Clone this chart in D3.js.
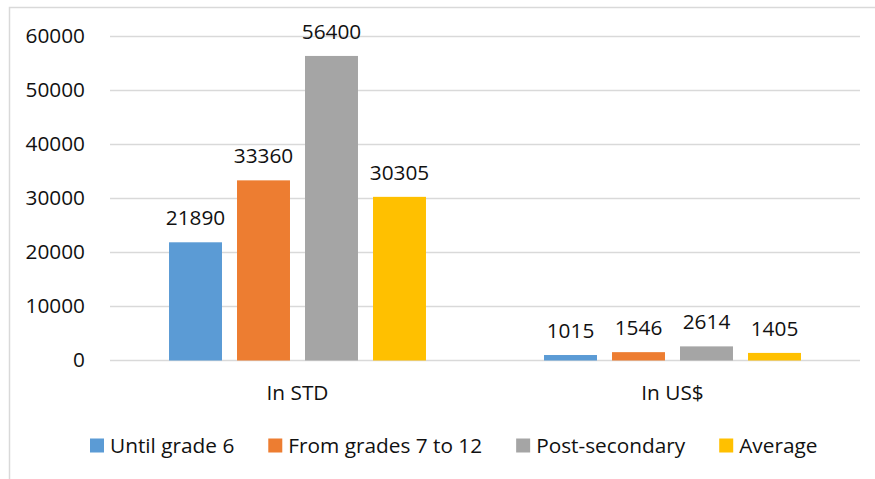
<!DOCTYPE html>
<html>
<head>
<meta charset="utf-8">
<script src="https://cdn.jsdelivr.net/npm/d3@7"></script>
<style>
  html, body { margin: 0; padding: 0; background: #fff; }
  svg { display: block; font-family: "Open Sans", "Noto Sans", sans-serif; }
</style>
</head>
<body>
<svg id="chart" width="875" height="479"></svg>
<script>
// Average school cost per pupil, by level, in local currency and in dollars
const categories = ["In STD", "In US$"];
const seriesNames = ["Until grade 6", "From grades 7 to 12", "Post-secondary", "Average"];
const untilGrade6 = [21890, 1015];
const grades7to12 = [33360, 1546];
const postSecondary = [56400, 2614];
const average = [30305, 1405];
const yTicks = [0, 10000, 20000, 30000, 40000, 50000, 60000];

const seriesValues = [untilGrade6, grades7to12, postSecondary, average];
const colors = ["#5B9BD5", "#ED7D31", "#A5A5A5", "#FFC000"];

const svg = d3.select("#chart");
const fontSize = 20.8;
const ink = "#111";

// chart frame
svg.append("rect")
  .attr("x", 9.5).attr("y", 7.5)
  .attr("width", 900).attr("height", 500)
  .attr("fill", "none").attr("stroke", "#d9d9d9").attr("stroke-width", 1.5);

const plot = { left: 110, right: 860, top: 36.5, bottom: 360.5 };

const y = d3.scaleLinear().domain([0, 60000]).range([plot.bottom, plot.top]);
const x0 = d3.scaleBand().domain(categories).range([plot.left, plot.right]).padding(0);
const x1 = d3.scaleBand().domain(seriesNames).range([0, x0.bandwidth()])
  .paddingInner(0.221).paddingOuter(0.868);

// gridlines
svg.append("g").selectAll("line").data(yTicks).join("line")
  .attr("x1", plot.left).attr("x2", plot.right)
  .attr("y1", d => y(d)).attr("y2", d => y(d))
  .attr("stroke", "#d9d9d9").attr("stroke-width", 1.5);

// y axis labels
const yAxis = d3.axisLeft(y).tickValues(yTicks).tickSize(0).tickPadding(0).tickFormat(d3.format("d"));
const yg = svg.append("g").attr("transform", "translate(85,0)").call(yAxis);
yg.select(".domain").remove();
yg.selectAll("text")
  .attr("font-family", "'Open Sans', sans-serif")
  .attr("font-size", fontSize).attr("fill", ink)
  .attr("dy", "0.28em");

// bars
const rows = categories.map((c, i) => ({
  category: c,
  values: seriesNames.map((s, j) => ({ series: s, value: seriesValues[j][i], color: colors[j] }))
}));

const groups = svg.append("g").selectAll("g").data(rows).join("g")
  .attr("transform", d => `translate(${x0(d.category)},0)`);

groups.selectAll("rect").data(d => d.values).join("rect")
  .attr("x", d => x1(d.series))
  .attr("width", x1.bandwidth())
  .attr("y", d => y(d.value))
  .attr("height", d => y(0) - y(d.value))
  .attr("fill", d => d.color);

groups.selectAll("text").data(d => d.values).join("text")
  .attr("x", d => x1(d.series) + x1.bandwidth() / 2)
  .attr("y", d => y(d.value) - 17)
  .attr("text-anchor", "middle")
  .attr("font-size", fontSize).attr("fill", ink)
  .text(d => d.value);

// category labels
svg.append("g").selectAll("text").data(categories).join("text")
  .attr("x", d => x0(d) + x0.bandwidth() / 2)
  .attr("y", 400)
  .attr("text-anchor", "middle")
  .attr("font-size", fontSize).attr("fill", ink)
  .text(d => d);

// legend
const legend = svg.append("g");
let lx = 90;
seriesNames.forEach((name, i) => {
  legend.append("rect")
    .attr("x", lx).attr("y", 438.5).attr("width", 14).attr("height", 14)
    .attr("fill", colors[i]);
  const t = legend.append("text")
    .attr("x", lx + 20).attr("y", 452.5)
    .attr("font-size", fontSize).attr("fill", ink)
    .text(name);
  lx += 20 + t.node().getComputedTextLength() + 34;
});
</script>
</body>
</html>
